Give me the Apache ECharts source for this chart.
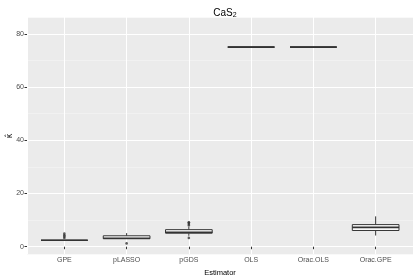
<!DOCTYPE html>
<html><head><meta charset="utf-8">
<script src="https://cdn.jsdelivr.net/npm/echarts@6/dist/echarts.min.js"></script>
<style>html,body{margin:0;padding:0;background:#fff}#c{width:415px;height:277px}</style>
</head><body><div id="c"></div>
<script>
const categories = ['GPE','pLASSO','pGDS','OLS','Orac.OLS','Orac.GPE'];
const lowerWhisker = [2.4, 3.0, 4.1, 75, 75, 4.2];
const q1 =           [2.4, 3.0, 5.1, 75, 75, 6.1];
const median =       [2.4, 3.2, 5.4, 75, 75, 7.25];
const q3 =           [2.4, 4.1, 6.4, 75, 75, 8.3];
const upperWhisker = [2.4, 5.1, 7.4, 75, 75, 11.4];
const outliers = [
  ['GPE', 3.3], ['GPE', 3.8], ['GPE', 4.3], ['GPE', 4.9],
  ['pLASSO', 1.25],
  ['pGDS', 8.0], ['pGDS', 8.5], ['pGDS', 9.0], ['pGDS', 9.2], ['pGDS', 3.3]
];
const yTicks = [0, 20, 40, 60, 80];

const boxData = categories.map((c, i) => [i + 1, lowerWhisker[i], q1[i], median[i], q3[i], upperWhisker[i]]);
const outlierData = outliers.map(o => [categories.indexOf(o[0]) + 1, o[1]]);

const chart = echarts.init(document.getElementById('c'), null, {renderer: 'canvas'});
const txt = '#4D4D4D';
const yMin = -2.74, yMax = 86.3;
const isInt = v => Math.abs(v - Math.round(v)) < 1e-6;
chart.setOption({
  animation: false,
  backgroundColor: '#fff',
  title: {
    text: '{a|CaS}{b|2}', left: 220, textAlign: 'center', top: 2,
    textStyle: { fontWeight: 'normal', rich: {
      a: {fontFamily: 'Liberation Sans', fontSize: 10, color: '#000', fontWeight: 'normal'},
      b: {fontFamily: 'Liberation Sans', fontSize: 7, color: '#000', fontWeight: 'normal', padding: [5, 0, 0, 0]}
    }}
  },
  graphic: [{
    type: 'text', x: 10, y: 136, rotation: Math.PI / 2,
    style: {text: 'κ̂', fontFamily: 'DejaVu Sans', fontSize: 8, fill: '#000', align: 'center', verticalAlign: 'middle'}
  }],
  grid: {left: 27, right: 2, top: 17, bottom: 23, show: true, backgroundColor: '#EBEBEB', borderWidth: 0,
         containLabel: false, outerBoundsMode: 'none'},
  xAxis: {
    type: 'value', min: 0.4, max: 6.6, splitNumber: 6,
    name: 'Estimator', nameLocation: 'middle', nameGap: 6,
    nameTextStyle: {fontFamily: 'Liberation Sans', fontSize: 7.5, color: '#000'},
    axisLine: {show: false},
    axisTick: {show: true, length: 2.5, lineStyle: {color: '#333', width: 1}},
    axisLabel: {
      margin: 3, fontFamily: 'Liberation Sans', fontSize: 7, color: txt,
      showMinLabel: false, showMaxLabel: false,
      formatter: v => isInt(v) && v >= 1 && v <= 6 ? categories[Math.round(v) - 1] : ''
    },
    splitLine: {show: true, lineStyle: {color: '#fff', width: 1}}
  },
  yAxis: [{
    type: 'value', min: yMin, max: yMax, splitNumber: 5,
    axisLine: {show: false},
    axisTick: {show: true, length: 2.5, lineStyle: {color: '#333', width: 1}},
    axisLabel: {
      margin: 3, fontFamily: 'Liberation Sans', fontSize: 7, color: txt,
      showMinLabel: false, showMaxLabel: false,
      formatter: v => isInt(v) && yTicks.includes(Math.round(v)) ? String(Math.round(v)) : ''
    },
    splitLine: {show: true, lineStyle: {color: '#fff', width: 1}}
  }, {
    type: 'value', min: yMin - 10, max: yMax - 10, splitNumber: 5,
    position: 'left',
    axisLine: {show: false}, axisTick: {show: false}, axisLabel: {show: false},
    splitLine: {show: true, lineStyle: {color: '#F5F5F5', width: 0.6}}
  }],
  series: [{
    type: 'custom',
    yAxisIndex: 0,
    z: 5,
    data: boxData,
    renderItem: function (params, api) {
      const x = api.value(0);
      const halfW = api.size([0.75, 0])[0] / 2;
      const pLo = api.coord([x, api.value(1)]);
      const pQ1 = api.coord([x, api.value(2)]);
      const pMed = api.coord([x, api.value(3)]);
      const pQ3 = api.coord([x, api.value(4)]);
      const pHi = api.coord([x, api.value(5)]);
      const st = {stroke: '#333333', lineWidth: 1, fill: null};
      return {
        type: 'group',
        children: [
          {type: 'line', shape: {x1: pHi[0], y1: pHi[1], x2: pQ3[0], y2: pQ3[1]}, style: st},
          {type: 'line', shape: {x1: pLo[0], y1: pLo[1], x2: pQ1[0], y2: pQ1[1]}, style: st},
          {type: 'rect', shape: {x: pQ3[0] - halfW, y: pQ3[1], width: 2 * halfW, height: Math.max(pQ1[1] - pQ3[1], 0)},
           style: {stroke: '#333333', lineWidth: 1, fill: '#fff'}},
          {type: 'line', shape: {x1: pMed[0] - halfW, y1: pMed[1], x2: pMed[0] + halfW, y2: pMed[1]},
           style: {stroke: '#333333', lineWidth: 1.6}}
        ]
      };
    }
  }, {
    type: 'scatter',
    yAxisIndex: 0,
    z: 6,
    data: outlierData,
    symbol: 'circle',
    symbolSize: 2.6,
    itemStyle: {color: '#333333'}
  }]
});
</script></body></html>
